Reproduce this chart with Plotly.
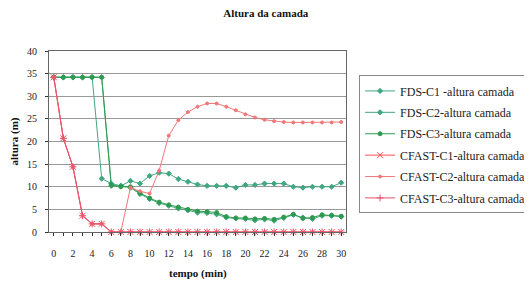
import plotly.graph_objects as go

minutes = list(range(0, 31))
x_tick_labels = [str(m) if m % 2 == 0 else "" for m in minutes]

fds_c1 = [34.2, 34.2, 34.2, 34.2, 34.2, 11.8, 10.7, 10.2, 11.3, 10.7, 12.4, 13.1, 12.9, 11.7, 11.1,
          10.5, 10.2, 10.2, 10.2, 9.8, 10.4, 10.4, 10.7, 10.7, 10.7, 10.0, 9.8, 10.0, 10.0, 10.0, 10.9]
fds_c2 = [34.2, 34.2, 34.2, 34.2, 34.2, 34.2, 10.2, 10.2, 9.8, 8.4, 7.3, 6.4, 5.8, 5.2, 4.8,
          4.3, 4.2, 3.9, 3.2, 3.0, 2.9, 2.6, 2.8, 2.5, 3.1, 3.8, 3.2, 2.9, 3.6, 3.6, 3.4]
fds_c3 = [34.2, 34.2, 34.2, 34.2, 34.2, 34.2, 10.4, 10.0, 10.0, 8.6, 7.5, 6.6, 6.0, 5.5, 5.0,
          4.6, 4.5, 4.3, 3.4, 3.1, 3.1, 2.9, 3.0, 2.8, 3.3, 3.9, 3.0, 3.2, 3.8, 3.7, 3.5]
cfast_c1 = [34.2, 20.7, 14.4, 3.6, 1.8, 1.8, 0, 0, 0, 0, 0, 0, 0, 0, 0,
            0, 0, 0, 0, 0, 0, 0, 0, 0, 0, 0, 0, 0, 0, 0, 0]
cfast_c2 = [34.2, 20.7, 14.4, 3.6, 1.8, 1.8, 0, 0, 9.8, 9.0, 8.5, 13.6, 21.3, 24.7, 26.5,
            27.7, 28.4, 28.4, 27.7, 26.9, 26.0, 25.3, 24.8, 24.5, 24.3, 24.2, 24.2, 24.2, 24.2, 24.2, 24.3]
cfast_c3 = [34.2, 20.7, 14.4, 3.6, 1.8, 1.8, 0, 0, 0, 0, 0, 0, 0, 0, 0,
            0, 0, 0, 0, 0, 0, 0, 0, 0, 0, 0, 0, 0, 0, 0, 0]

series = [
    ("FDS-C1 -altura camada", fds_c1, "#40a880", "diamond", 4),
    ("FDS-C2-altura camada", fds_c2, "#40a880", "diamond", 4),
    ("FDS-C3-altura camada", fds_c3, "#2e9a4e", "circle", 4),
    ("CFAST-C1-altura camada", cfast_c1, "#ff5050", "x-thin-open", 6),
    ("CFAST-C2-altura camada", cfast_c2, "#f07878", "circle", 3),
    ("CFAST-C3-altura camada", cfast_c3, "#e8506e", "cross-thin-open", 5),
]

fig = go.Figure()
for i, (name, vals, color, sym, size) in enumerate(series):
    fig.add_trace(go.Scatter(
        x=minutes, y=vals, name=name, mode="lines+markers", legendgroup=f"g{i}",
        line=dict(color=color, width=1),
        marker=dict(symbol=sym, size=size, color=color, line=dict(color=color, width=1)),
        cliponaxis=False,
    ))

ff = "Liberation Serif, Times New Roman, Tinos, serif"
W, H = 524, 274
fig.update_layout(
    width=W, height=H,
    margin=dict(l=41, r=W - 338, t=43, b=H - 224, autoexpand=False),
    paper_bgcolor="white", plot_bgcolor="white",
    font=dict(family=ff, size=10, color="#222222"),
    title=dict(text="<b>Altura da camada</b>", x=0.492, xanchor="center", y=0.98, yanchor="middle",
               font=dict(family=ff, size=11, color="#111111")),
    showlegend=True,
    legend=dict(x=1.044, xanchor="left", y=0.865, yanchor="top",
                bordercolor="#888888", borderwidth=1, bgcolor="white",
                font=dict(family=ff, size=12, color="#222222"),
                itemwidth=30, tracegroupgap=2.4),
    annotations=[
        dict(text="<b>tempo (min)</b>", xref="paper", yref="paper", x=0.5, y=-41 / 181,
             xanchor="center", yanchor="middle", showarrow=False,
             font=dict(family=ff, size=11, color="#111111")),
        dict(text="<b>altura (m)</b>", xref="paper", yref="paper", x=-35 / 297, y=0.5,
             xanchor="center", yanchor="middle", showarrow=False, textangle=-90,
             font=dict(family=ff, size=11, color="#111111")),
    ],
)
fig.update_xaxes(
    range=[-0.5, 30.5], tickvals=minutes, ticktext=x_tick_labels,
    ticks="outside", ticklen=3, tickcolor="#333333", ticklabelstandoff=9,
    showline=True, linecolor="#666666", mirror=True, linewidth=1,
    showgrid=False, zeroline=False,
)
fig.update_yaxes(
    range=[0, 40], dtick=5, ticks="outside", ticklen=3, tickcolor="#333333", ticklabelstandoff=6,
    showline=True, linecolor="#666666", mirror=True, linewidth=1,
    showgrid=True, gridcolor="#999999", gridwidth=1, zeroline=False,
)

fig.write_html("out.html")
